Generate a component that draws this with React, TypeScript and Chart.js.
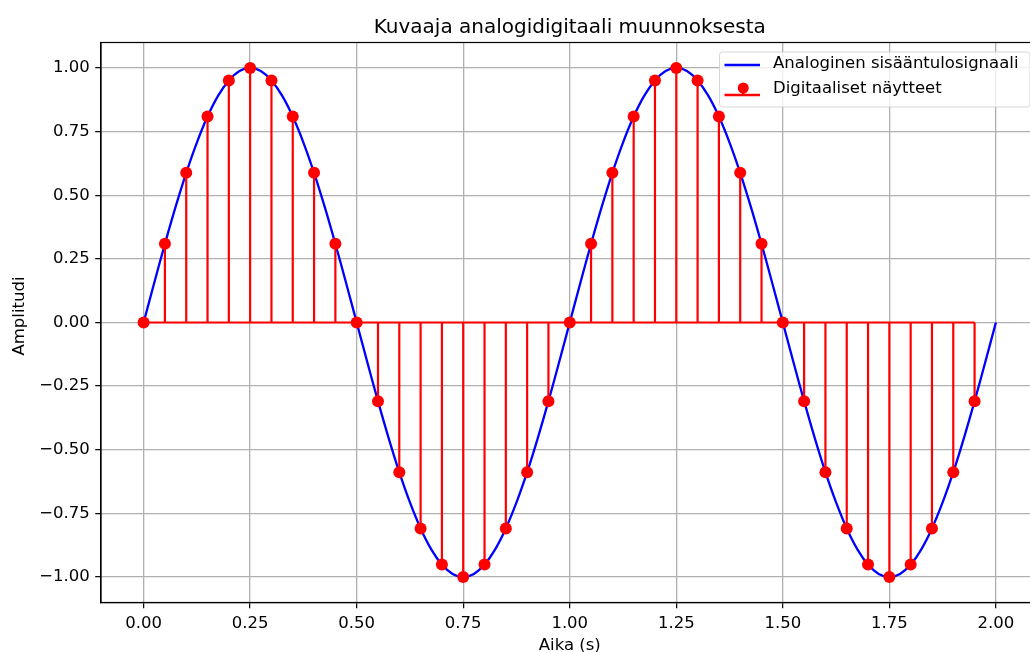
import React, { useEffect, useRef } from "react";
import { Chart, registerables } from "chart.js";

Chart.register(...registerables);

// ---- Data ----
const analogTimes = [
  0, 0.025, 0.05, 0.075, 0.1, 0.125, 0.15, 0.175, 0.2, 0.225, 0.25, 0.275, 0.3, 0.325, 0.35, 0.375, 0.4, 0.425, 0.45, 0.475,
  0.5, 0.525, 0.55, 0.575, 0.6, 0.625, 0.65, 0.675, 0.7, 0.725, 0.75, 0.775, 0.8, 0.825, 0.85, 0.875, 0.9, 0.925, 0.95, 0.975,
  1.0, 1.025, 1.05, 1.075, 1.1, 1.125, 1.15, 1.175, 1.2, 1.225, 1.25, 1.275, 1.3, 1.325, 1.35, 1.375, 1.4, 1.425, 1.45, 1.475,
  1.5, 1.525, 1.55, 1.575, 1.6, 1.625, 1.65, 1.675, 1.7, 1.725, 1.75, 1.775, 1.8, 1.825, 1.85, 1.875, 1.9, 1.925, 1.95, 1.975,
  2.0,
];
const analogValues = [
  0, 0.156, 0.309, 0.454, 0.588, 0.707, 0.809, 0.891, 0.951, 0.988, 1.0, 0.988, 0.951, 0.891, 0.809, 0.707, 0.588, 0.454, 0.309, 0.156,
  0, -0.156, -0.309, -0.454, -0.588, -0.707, -0.809, -0.891, -0.951, -0.988, -1.0, -0.988, -0.951, -0.891, -0.809, -0.707, -0.588, -0.454, -0.309, -0.156,
  0, 0.156, 0.309, 0.454, 0.588, 0.707, 0.809, 0.891, 0.951, 0.988, 1.0, 0.988, 0.951, 0.891, 0.809, 0.707, 0.588, 0.454, 0.309, 0.156,
  0, -0.156, -0.309, -0.454, -0.588, -0.707, -0.809, -0.891, -0.951, -0.988, -1.0, -0.988, -0.951, -0.891, -0.809, -0.707, -0.588, -0.454, -0.309, -0.156,
  0,
];
const sampleTimes = [
  0, 0.05, 0.1, 0.15, 0.2, 0.25, 0.3, 0.35, 0.4, 0.45, 0.5, 0.55, 0.6, 0.65, 0.7, 0.75, 0.8, 0.85, 0.9, 0.95,
  1.0, 1.05, 1.1, 1.15, 1.2, 1.25, 1.3, 1.35, 1.4, 1.45, 1.5, 1.55, 1.6, 1.65, 1.7, 1.75, 1.8, 1.85, 1.9, 1.95,
];
const sampleValues = [
  0, 0.309, 0.588, 0.809, 0.951, 1.0, 0.951, 0.809, 0.588, 0.309, 0, -0.309, -0.588, -0.809, -0.951, -1.0, -0.951, -0.809, -0.588, -0.309,
  0, 0.309, 0.588, 0.809, 0.951, 1.0, 0.951, 0.809, 0.588, 0.309, 0, -0.309, -0.588, -0.809, -0.951, -1.0, -0.951, -0.809, -0.588, -0.309,
];

const xTickValues = [0, 0.25, 0.5, 0.75, 1.0, 1.25, 1.5, 1.75, 2.0];
const yTickValues = [-1.0, -0.75, -0.5, -0.25, 0, 0.25, 0.5, 0.75, 1.0];

const TITLE = "Kuvaaja analogidigitaali muunnoksesta";
const X_LABEL = "Aika (s)";
const Y_LABEL = "Amplitudi";
const LEGEND_LABELS = ["Analoginen sisääntulosignaali", "Digitaaliset näytteet"];
const X_MIN = -0.1;
const X_MAX = 2.1;
const Y_MIN = -1.1;
const Y_MAX = 1.1;

const FONT = "'DejaVu Sans', sans-serif";
const BLUE = "#0000ff";
const RED = "#ff0000";

const CANVAS_W = 1045;
const CANVAS_H = 652;

const fmt = (v: number) => {
  const s = (Math.abs(v) < 1e-9 ? 0 : v).toFixed(2);
  return s.replace("-", "\u2212");
};

const decorPlugin = {
  id: "decor",
  afterDatasetsDraw(chart: any) {
    const { ctx, chartArea: a } = chart;
    ctx.save();
    ctx.strokeStyle = "#000";
    ctx.lineWidth = 1.2;
    ctx.strokeRect(a.left, a.top, a.right - a.left, a.bottom - a.top);
    ctx.restore();
  },
  afterDraw(chart: any) {
    const { ctx, chartArea: a } = chart;
    ctx.save();
    ctx.fillStyle = "#000";
    // Title
    ctx.font = `20px ${FONT}`;
    ctx.textAlign = "center";
    ctx.textBaseline = "alphabetic";
    ctx.fillText(TITLE, (a.left + a.right) / 2, 33);
    // X label
    ctx.font = `16.5px ${FONT}`;
    ctx.fillText(X_LABEL, (a.left + a.right) / 2, 650);
    // Y label
    ctx.save();
    ctx.translate(20, 316);
    ctx.rotate(-Math.PI / 2);
    ctx.textBaseline = "middle";
    ctx.fillText(Y_LABEL, 0, 0);
    ctx.restore();

    // Legend
    ctx.font = `16.5px ${FONT}`;
    const right = a.right - 8.5;
    const top = a.top + 9.5;
    const textX = 773;
    const w0 = Math.max(...LEGEND_LABELS.map((l) => ctx.measureText(l).width));
    const boxRight = Math.max(right, textX + w0 + 6.6);
    const left = 719.5;
    const bottom = 107;
    const r = 3;
    ctx.beginPath();
    ctx.moveTo(left + r, top);
    ctx.lineTo(boxRight - r, top);
    ctx.quadraticCurveTo(boxRight, top, boxRight, top + r);
    ctx.lineTo(boxRight, bottom - r);
    ctx.quadraticCurveTo(boxRight, bottom, boxRight - r, bottom);
    ctx.lineTo(left + r, bottom);
    ctx.quadraticCurveTo(left, bottom, left, bottom - r);
    ctx.lineTo(left, top + r);
    ctx.quadraticCurveTo(left, top, left + r, top);
    ctx.closePath();
    ctx.fillStyle = "rgba(255,255,255,0.8)";
    ctx.fill();
    ctx.strokeStyle = "rgba(204,204,204,0.8)";
    ctx.lineWidth = 1;
    ctx.stroke();

    const hx0 = 724.5;
    const hx1 = 760;
    // entry 1
    const y1 = 65;
    ctx.strokeStyle = BLUE;
    ctx.lineWidth = 2.3;
    ctx.beginPath();
    ctx.moveTo(hx0, y1);
    ctx.lineTo(hx1, y1);
    ctx.stroke();
    ctx.fillStyle = "#000";
    ctx.textAlign = "left";
    ctx.textBaseline = "middle";
    ctx.fillText(LEGEND_LABELS[0], textX, y1 - 1);
    // entry 2
    const y2 = 88;
    const yb = 95;
    const mx = (hx0 + hx1) / 2 + 1;
    ctx.strokeStyle = RED;
    ctx.beginPath();
    ctx.moveTo(hx0, yb);
    ctx.lineTo(hx1, yb);
    ctx.moveTo(mx, y2);
    ctx.lineTo(mx, yb);
    ctx.stroke();
    ctx.fillStyle = RED;
    ctx.beginPath();
    ctx.arc(mx, y2, 5.5, 0, Math.PI * 2);
    ctx.fill();
    ctx.fillStyle = "#000";
    ctx.fillText(LEGEND_LABELS[1], textX, y2 + 1);
    ctx.restore();
  },
};

export default function App() {
  const canvasRef = useRef<HTMLCanvasElement | null>(null);

  useEffect(() => {
    const canvas = canvasRef.current;
    if (!canvas) return;

    const analogData = analogTimes.map((t, i) => ({ x: t, y: analogValues[i] }));
    const sampleData = sampleTimes.map((t, i) => ({ x: t, y: sampleValues[i] }));
    const stemData: { x: number; y: number | null }[] = [];
    sampleTimes.forEach((t, i) => {
      stemData.push({ x: t, y: 0 });
      stemData.push({ x: t, y: sampleValues[i] });
      stemData.push({ x: t, y: null });
    });
    const baselineData = [
      { x: sampleTimes[0], y: 0 },
      { x: sampleTimes[sampleTimes.length - 1], y: 0 },
    ];

    const axisCommon = (min: number, max: number, tickValues: number[]) => ({
      type: "linear" as const,
      min,
      max,
      afterBuildTicks: (scale: any) => {
        scale.ticks = tickValues.map((v) => ({ value: v }));
      },
      ticks: {
        color: "#000",
        font: { family: FONT, size: 16.5 },
        padding: 5.5,
        autoSkip: false,
        maxRotation: 0,
        callback: (v: any) => fmt(Number(v)),
      },
      grid: {
        color: "#b0b0b0",
        lineWidth: 1.3,
        tickColor: "#000",
        tickLength: 5.8,
        tickWidth: 1.2,
        drawTicks: true,
      },
      border: { display: true, color: "#000", width: 1.2 },
    });

    const chart = new Chart(canvas, {
      type: "scatter",
      data: {
        datasets: [
          {
            label: "samples",
            data: sampleData,
            showLine: false,
            pointRadius: 6,
            pointHoverRadius: 6,
            pointBackgroundColor: RED,
            pointBorderColor: RED,
            pointBorderWidth: 0,
            order: 0,
          },
          {
            label: "stems",
            data: stemData,
            showLine: true,
            spanGaps: false,
            borderColor: RED,
            borderWidth: 2.2,
            pointRadius: 0,
            tension: 0,
            order: 1,
          },
          {
            label: "baseline",
            data: baselineData,
            showLine: true,
            borderColor: RED,
            borderWidth: 2.2,
            pointRadius: 0,
            order: 2,
          },
          {
            label: "analog",
            data: analogData,
            showLine: true,
            borderColor: BLUE,
            borderWidth: 2.3,
            pointRadius: 0,
            tension: 0.4,
            order: 3,
          },
        ],
      },
      options: {
        responsive: false,
        devicePixelRatio: 1,
        animation: false,
        events: [],
        layout: { padding: { top: 42.5, right: CANVAS_W - 1038.5, bottom: 0, left: 0 } },
        plugins: {
          legend: { display: false },
          title: { display: false },
          tooltip: { enabled: false },
        },
        scales: {
          x: {
            ...axisCommon(X_MIN, X_MAX, xTickValues),
            position: "bottom",
            afterFit: (scale: any) => {
              scale.height = CANVAS_H - 602.5;
            },
          },
          y: {
            ...axisCommon(Y_MIN, Y_MAX, yTickValues),
            position: "left",
            afterFit: (scale: any) => {
              scale.width = 101;
            },
          },
        },
      } as any,
      plugins: [decorPlugin],
    });

    return () => chart.destroy();
  }, []);

  return (
    <div
      style={{
        position: "fixed",
        left: 0,
        top: 0,
        width: 1030,
        height: 652,
        overflow: "hidden",
        background: "#fff",
      }}
    >
      <canvas
        ref={canvasRef}
        width={CANVAS_W}
        height={CANVAS_H}
        style={{ display: "block", width: CANVAS_W, height: CANVAS_H }}
      />
    </div>
  );
}
